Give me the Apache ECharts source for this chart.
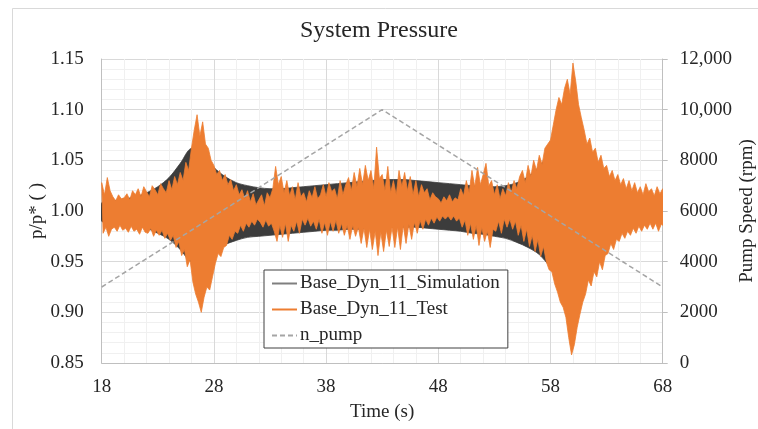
<!DOCTYPE html>
<html>
<head>
<meta charset="utf-8">
<script src="https://cdn.jsdelivr.net/npm/echarts@6/dist/echarts.min.js"></script>
<style>
  html, body { margin: 0; padding: 0; background: #fff; }
  #main { width: 758px; height: 429px; }
</style>
</head>
<body>
<div id="main"></div>
<script>
// time axis (s)
const xStart = 18;
const xEnd = 68;
const xTickLabels = [18, 28, 38, 48, 58, 68];

// simulation envelope, one value per second from 18 s to 68 s
const simUpper = [
  1.008, 1.010, 1.012, 1.014, 1.018, 1.024, 1.033, 1.047, 1.062, 1.056,
  1.043, 1.034, 1.028, 1.025, 1.023, 1.022, 1.022, 1.023, 1.024, 1.025,
  1.026, 1.027, 1.028, 1.029, 1.030, 1.031, 1.031, 1.031, 1.030, 1.029,
  1.028, 1.027, 1.026, 1.025, 1.024, 1.024, 1.025, 1.028, 1.034, 1.044,
  1.058, 1.065, 1.060, 1.045, 1.032, 1.024, 1.018, 1.014, 1.011, 1.009,
  1.008
];
const simLower = [
  0.990, 0.989, 0.988, 0.986, 0.983, 0.978, 0.972, 0.962, 0.950, 0.955,
  0.962, 0.967, 0.971, 0.974, 0.975, 0.976, 0.977, 0.978, 0.979, 0.980,
  0.981, 0.981, 0.982, 0.982, 0.983, 0.983, 0.984, 0.984, 0.984, 0.983,
  0.982, 0.981, 0.980, 0.978, 0.977, 0.975, 0.973, 0.969, 0.964, 0.957,
  0.945, 0.938, 0.942, 0.955, 0.968, 0.976, 0.982, 0.986, 0.989, 0.991,
  0.992
];

// test signal peaks and troughs, every 0.25 s from 18 s to 68 s
const testStep = 0.25;
const testHigh = [
  1.028, 1.016, 1.033, 1.020,  1.014, 1.010, 1.016, 1.012,  1.013, 1.017, 1.011, 1.020,
  1.016, 1.022, 1.014, 1.024,  1.019, 1.014, 1.025, 1.021,  1.016, 1.027, 1.022, 1.018,
  1.030, 1.021, 1.034, 1.026,  1.038, 1.030, 1.048, 1.040,  1.062, 1.080, 1.095, 1.074,
  1.088, 1.066, 1.062, 1.050,  1.045, 1.036, 1.040, 1.030,  1.036, 1.026, 1.031, 1.020,
  1.026, 1.016, 1.021, 1.012,  1.020, 1.009, 1.017, 1.006,  1.011, 1.016, 1.005, 1.018,
  1.013, 1.022, 1.044, 1.026,  1.034, 1.018, 1.030, 1.015,  1.024, 1.011, 1.028, 1.014,
  1.018, 1.009, 1.020, 1.013,  1.024, 1.012, 1.016, 1.026,  1.014, 1.028, 1.019, 1.022,
  1.012, 1.030, 1.016, 1.026,  1.033, 1.020, 1.038, 1.024,  1.042, 1.026, 1.045, 1.030,
  1.040, 1.022, 1.063, 1.032,  1.036, 1.020, 1.044, 1.018,  1.030, 1.016, 1.040, 1.024,
  1.038, 1.020, 1.034, 1.016,  1.030, 1.014, 1.026, 1.018,  1.022, 1.011, 1.018, 1.014,
  1.012, 1.008, 1.014, 1.010,  1.016, 1.009, 1.013, 1.011,  1.022, 1.015, 1.030, 1.018,
  1.040, 1.024, 1.043, 1.026,  1.036, 1.047, 1.025, 1.030,  1.016, 1.026, 1.012, 1.022,
  1.015, 1.028, 1.018, 1.030,  1.022, 1.034, 1.040, 1.028,  1.045, 1.034, 1.050, 1.040,
  1.055, 1.046, 1.062, 1.066,  1.070, 1.085, 1.100, 1.112,  1.105, 1.121, 1.130, 1.115,
  1.146, 1.128, 1.105, 1.092,  1.080, 1.066, 1.072, 1.058,  1.062, 1.048, 1.055, 1.042,
  1.045, 1.034, 1.040, 1.030,  1.036, 1.026, 1.032, 1.022,  1.030, 1.020, 1.028, 1.018,
  1.024, 1.016, 1.027, 1.019,  1.022, 1.015, 1.024, 1.017,  1.022
];
const testLow = [
  0.978, 0.984, 0.975, 0.982,  0.984, 0.980, 0.986, 0.981,  0.983, 0.979, 0.985, 0.980,
  0.982, 0.977, 0.984, 0.979,  0.978, 0.983, 0.975, 0.981,  0.976, 0.981, 0.973, 0.978,
  0.971, 0.976, 0.964, 0.970,  0.956, 0.962, 0.945, 0.952,  0.930, 0.918, 0.910, 0.900,
  0.915, 0.925, 0.922, 0.935,  0.948, 0.958, 0.955, 0.964,  0.966, 0.976, 0.972, 0.980,
  0.978, 0.986, 0.980, 0.988,  0.984, 0.990, 0.986, 0.992,  0.989, 0.984, 0.991, 0.985,
  0.988, 0.980, 0.970, 0.986,  0.974, 0.988, 0.970, 0.986,  0.980, 0.990, 0.978, 0.992,
  0.986, 0.993, 0.985, 0.990,  0.982, 0.992, 0.978, 0.989,  0.976, 0.990, 0.980, 0.991,
  0.978, 0.988, 0.976, 0.986,  0.972, 0.986, 0.975, 0.984,  0.968, 0.983, 0.964, 0.982,
  0.962, 0.980, 0.956, 0.979,  0.960, 0.981, 0.965, 0.984,  0.964, 0.984, 0.962, 0.986,
  0.968, 0.987, 0.972, 0.989,  0.978, 0.991, 0.982, 0.992,  0.986, 0.993, 0.988, 0.994,
  0.990, 0.995, 0.992, 0.995,  0.991, 0.995, 0.990, 0.993,  0.984, 0.991, 0.976, 0.988,
  0.972, 0.986, 0.966, 0.984,  0.970, 0.980, 0.964, 0.982,  0.980, 0.990, 0.978, 0.992,
  0.984, 0.992, 0.982, 0.990,  0.976, 0.986, 0.970, 0.982,  0.965, 0.976, 0.960, 0.972,
  0.955, 0.965, 0.950, 0.942,  0.940, 0.928, 0.920, 0.910,  0.905, 0.895, 0.875, 0.858,
  0.868, 0.885, 0.898, 0.910,  0.918, 0.932, 0.926, 0.940,  0.935, 0.950, 0.942, 0.956,
  0.958, 0.968, 0.962, 0.972,  0.970, 0.978, 0.973, 0.980,  0.976, 0.983, 0.978, 0.985,
  0.980, 0.986, 0.982, 0.988,  0.982, 0.988, 0.980, 0.987,  0.985
];

// pump speed ramp (rpm)
const pumpTime = [18, 43, 68];
const pumpSpeed = [3000, 10000, 3000];

const font = 'Liberation Serif';
const textColor = '#262626';
const lineIcon = 'path://M0,0 L25,0 L25,2 L0,2 Z';
const dashIcon = 'path://M0,0 L5,0 L5,2 L0,2 Z M8,0 L13,0 L13,2 L8,2 Z M16,0 L21,0 L21,2 L16,2 Z M24,0 L25,0 L25,2 L24,2 Z';

let pumpData = pumpTime.map((t, i) => [t, pumpSpeed[i]]);

// filled band between an upper and a lower trace
function bandItem(api, upper, lower, step, lowerShift, fill, smooth) {
  let top = upper.map((v, i) => api.coord([xStart + i * step, v]));
  let bottom = lower.map((v, i) => api.coord([xStart + i * step + lowerShift, v])).reverse();
  return {
    type: 'polygon',
    shape: { points: top.concat(bottom), smooth: smooth },
    style: { fill: fill, stroke: fill, lineWidth: 0.8, lineJoin: 'bevel' }
  };
}

let myChart = echarts.init(document.getElementById('main'));
let option = {
  animation: false,
  backgroundColor: '#fff',
  textStyle: { fontFamily: font },
  graphic: [{
    type: 'rect',
    shape: { x: 12.5, y: 8.5, width: 800, height: 480 },
    style: { fill: 'none', stroke: '#d9d9d9', lineWidth: 1 },
    silent: true
  }],
  title: {
    text: 'System Pressure',
    left: 'center',
    top: 14,
    textStyle: { fontFamily: font, fontSize: 24, fontWeight: 'normal', color: textColor }
  },
  legend: {
    orient: 'vertical',
    left: 264,
    top: 270,
    padding: [4, 8, 3, 8],
    itemGap: 7,
    itemWidth: 25,
    itemHeight: 12,
    borderColor: '#404040',
    borderWidth: 1,
    backgroundColor: '#fff',
    textStyle: { fontFamily: font, fontSize: 19, color: textColor, padding: [0, 0, 0, -2] },
    data: [
      { name: 'Base_Dyn_11_Simulation', icon: lineIcon, itemStyle: { color: '#7f7f7f' } },
      { name: 'Base_Dyn_11_Test', icon: lineIcon, itemStyle: { color: '#ed7d31' } },
      { name: 'n_pump', icon: dashIcon, itemStyle: { color: '#a5a5a5' } }
    ]
  },
  grid: { left: 101.7, right: 95.3, top: 59, bottom: 66, outerBoundsMode: 'none', containLabel: false },
  xAxis: {
    type: 'value',
    min: xStart,
    max: xEnd,
    interval: 2,
    name: 'Time (s)',
    nameLocation: 'middle',
    nameGap: 40,
    nameMoveOverlap: false,
    nameTextStyle: { fontFamily: font, fontSize: 19, color: textColor },
    axisLine: { lineStyle: { color: '#bfbfbf' } },
    axisTick: { show: false },
    axisLabel: {
      margin: 15,
      fontFamily: font, fontSize: 19, color: textColor,
      formatter: v => xTickLabels.indexOf(v) >= 0 ? String(v) : ''
    },
    splitLine: {
      show: true,
      lineStyle: { color: ['#d9d9d9', '#f0f0f0', '#f0f0f0', '#f0f0f0', '#f0f0f0'], width: 1 }
    }
  },
  yAxis: [{
    type: 'value',
    min: 0.85,
    max: 1.15,
    interval: 0.05,
    name: 'p/p* ( )',
    nameLocation: 'middle',
    nameRotate: 90,
    nameGap: 55,
    nameMoveOverlap: false,
    nameTextStyle: { fontFamily: font, fontSize: 19, color: textColor },
    axisLine: { show: true, lineStyle: { color: '#bfbfbf' } },
    axisTick: { show: false },
    axisLabel: {
      margin: 18,
      fontFamily: font, fontSize: 19, color: textColor,
      formatter: v => v.toFixed(2)
    },
    splitLine: { lineStyle: { color: '#d9d9d9' } },
    minorTick: { show: false, splitNumber: 5 },
    minorSplitLine: { show: true, lineStyle: { color: '#f0f0f0' } }
  }, {
    type: 'value',
    min: 0,
    max: 12000,
    interval: 2000,
    name: 'Pump Speed (rpm)',
    nameLocation: 'middle',
    nameRotate: 90,
    nameGap: 75,
    nameMoveOverlap: false,
    nameTextStyle: { fontFamily: font, fontSize: 19, color: textColor },
    axisLine: { show: true, lineStyle: { color: '#bfbfbf' } },
    axisTick: { show: true, length: 5, lineStyle: { color: '#bfbfbf' } },
    axisLabel: {
      margin: 17,
      fontFamily: font, fontSize: 19, color: textColor,
      formatter: v => v >= 10000 ? v.toLocaleString('en-US') : String(v)
    },
    splitLine: { show: false }
  }],
  series: [{
    name: 'Base_Dyn_11_Simulation',
    type: 'custom',
    coordinateSystem: 'cartesian2d',
    clip: true,
    itemStyle: { color: '#7f7f7f' },
    encode: { x: 0, y: 1 },
    data: [[xStart, simUpper[0]]],
    renderItem: (params, api) => bandItem(api, simUpper, simLower, 1, 0, '#3c3c3c', 0.35)
  }, {
    name: 'Base_Dyn_11_Test',
    type: 'custom',
    coordinateSystem: 'cartesian2d',
    clip: true,
    itemStyle: { color: '#ed7d31' },
    encode: { x: 0, y: 1 },
    data: [[xStart, testHigh[0]]],
    renderItem: (params, api) => bandItem(api, testHigh, testLow, testStep, testStep / 2, '#ed7d31', 0)
  }, {
    name: 'n_pump',
    type: 'line',
    yAxisIndex: 1,
    symbol: 'none',
    itemStyle: { color: '#a5a5a5' },
    lineStyle: { color: '#a5a5a5', width: 1.5, type: [5, 3] },
    data: pumpData
  }]
};
myChart.setOption(option);
</script>
</body>
</html>
